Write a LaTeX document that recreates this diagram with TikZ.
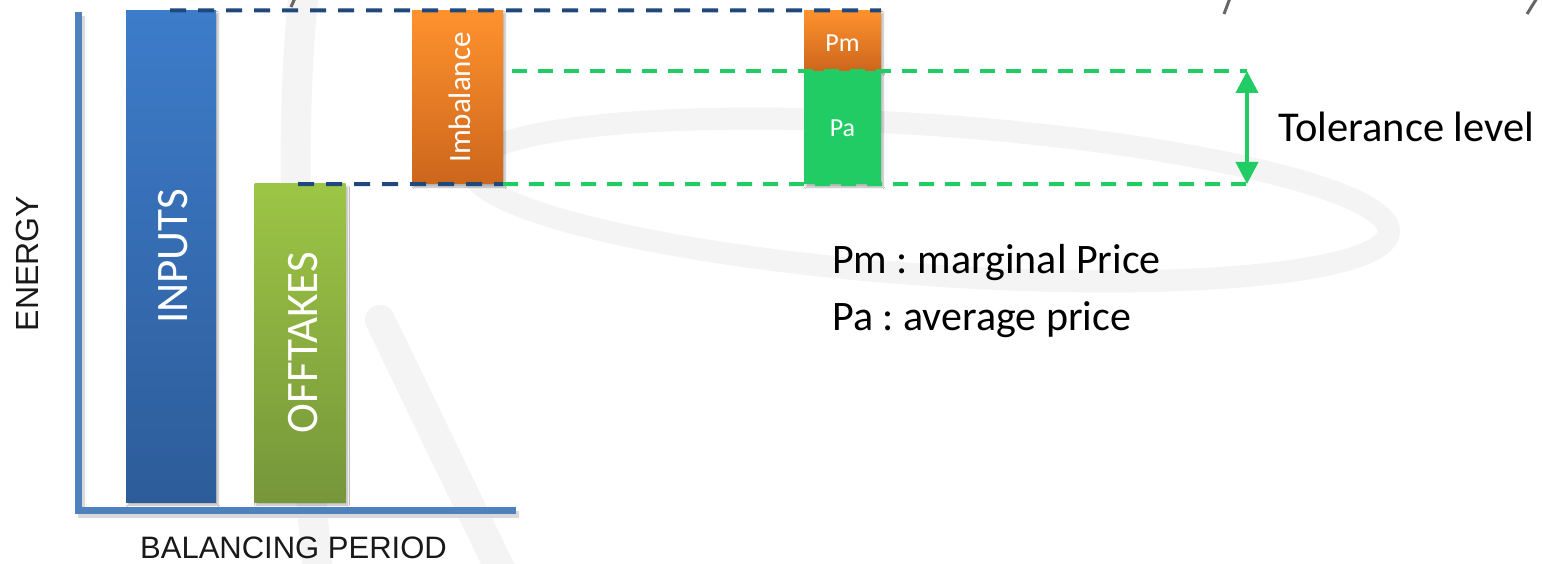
\documentclass[tikz,border=0pt]{standalone}
\usepackage{fontspec}
\setmainfont{Carlito}
\newfontfamily\arialf{Liberation Sans}
\usetikzlibrary{arrows.meta,shadows.blur}
\definecolor{axisblue}{HTML}{4F81BD}
\definecolor{inTop}{HTML}{3D7CCA}
\definecolor{inBot}{HTML}{2D5C99}
\definecolor{offTop}{HTML}{9DC545}
\definecolor{offBot}{HTML}{76963A}
\definecolor{orTop}{HTML}{FF922E}
\definecolor{orBot}{HTML}{CC661C}
\definecolor{tolgreen}{HTML}{22CC64}
\definecolor{dashblue}{HTML}{1F497D}
\definecolor{wmgray}{HTML}{F4F4F4}
\frenchspacing
\begin{document}
\begin{tikzpicture}[x=1pt,y=-1pt,
  bar/.style={draw=none, inner sep=0, minimum width=91pt,
    blur shadow={shadow xshift=2pt, shadow yshift=-3pt, shadow blur steps=6, shadow opacity=30}},
  inbar/.style={bar, top color=inTop, bottom color=inBot},
  offbar/.style={bar, top color=offTop, bottom color=offBot},
  orbar/.style={bar, top color=orTop, bottom color=orBot},
  grbar/.style={bar, fill=tolgreen},
  barlbl/.style={text=white, inner sep=0, rotate=90, anchor=base},
  boxlbl/.style={text=white, inner sep=0, anchor=base, font=\fontsize{26}{30}\selectfont},
  axisline/.style={draw=axisblue, line width=7pt},
  bdash/.style={draw=dashblue, line width=4pt, dash pattern=on 16pt off 12pt},
  gdash/.style={draw=tolgreen, line width=4pt, dash pattern=on 15pt off 11pt},
  tolarrow/.style={draw=tolgreen, line width=4pt, {Triangle[width=22pt,length=22pt]}-{Triangle[width=22pt,length=22pt]}},
  plain/.style={inner sep=0, text=black},
  wm/.style={draw=wmgray, line width=22pt, line cap=round},
  frag/.style={draw=black!60, line width=3pt}
]
\useasboundingbox (0,0) rectangle (1542,564);
\fill[white] (0,0) rectangle (1542,564);

% faint watermark
\draw[wm, rotate around={-4:(930,200)}] (930,200) ellipse [x radius=460, y radius=75];
\draw[wm, line width=30pt] (305,-20) .. controls (285,150) and (300,400) .. (320,590);
\draw[wm, line width=30pt] (380,320) -- (515,600);

% cut-off text fragments at the top edge
\coordinate (f1a) at (295,-2); \coordinate (f1b) at (291,7);
\coordinate (f2a) at (1230,-2); \coordinate (f2b) at (1224,14);
\coordinate (f3a) at (1537,-2); \coordinate (f3b) at (1527,14);
\draw[frag] (f1a) -- (f1b);
\draw[frag] (f2a) -- (f2b);
\draw[frag] (f3a) -- (f3b);

% axes
\coordinate (ytop) at (78.5,12);
\coordinate (orig) at (78.5,510);
\coordinate (xend) at (516,510);
\draw[black!15, line width=7pt] (81.5,16) -- (81.5,514) -- (519,514);
\draw[axisline] (ytop) -- (orig) -- (xend);

% bars
\node[inbar, minimum width=90pt, minimum height=491.5pt] (inputs) at (171,256.25) {};
\node[offbar, minimum height=318pt] (offtakes) at (300,343) {};
\node[orbar, minimum height=173.5pt] (imb) at (457.5,97.25) {};
\node[orbar, minimum width=77pt, minimum height=60.5pt] (pm) at (842.5,40.75) {};
\node[grbar, minimum width=77pt, minimum height=113pt] (pa) at (842.5,127.5) {};

% bar labels
\node[barlbl, font=\fontsize{45}{54}\selectfont] (inputsT) at (187,256.5) {INPUTS};
\node[barlbl, font=\fontsize{45}{54}\selectfont] (offT) at (317,342.5) {OFFTAKES};
\node[barlbl, font=\fontsize{31}{36}\selectfont] (imbT) at (470,97.5) {Imbalance};
\node[boxlbl] (pmT) at (842.5,52) {Pm};
\node[boxlbl] (paT) at (842.5,137) {Pa};

% dashed guide lines
\coordinate (btl) at (170,10.5);
\coordinate (bbl) at (298,184);
\coordinate (gtl) at (512,71);
\coordinate (tolT) at (1247,71);
\coordinate (tolB) at (1247,184);
\draw[bdash] (btl) -- (pm.north east);
\draw[bdash] (bbl) -- (imb.south east);
\draw[gdash] (gtl) -- (tolT);
\draw[gdash] (imb.south east) -- (tolB);
\draw[tolarrow] (tolT) -- (tolB);

% texts
\node[plain, anchor=base west, font=\fontsize{42.5}{50}\selectfont] (tol) at (1278,142) {Tolerance level};
\node[plain, anchor=base west, font=\fontsize{42}{50}\selectfont] (leg1) at (832,273) {Pm : marginal Price};
\node[plain, anchor=base west, font=\fontsize{42}{50}\selectfont] (leg2) at (832,330) {Pa : average price};
\node[plain, text=black!90, rotate=90, anchor=base, font=\arialf\fontsize{32}{36}\selectfont] (energy) at (38,263.5) {ENERGY};
\node[plain, text=black!90, anchor=base, font=\arialf\fontsize{31}{36}\selectfont] (bp) at (293.5,558) {BALANCING PERIOD};
\end{tikzpicture}
\end{document}
